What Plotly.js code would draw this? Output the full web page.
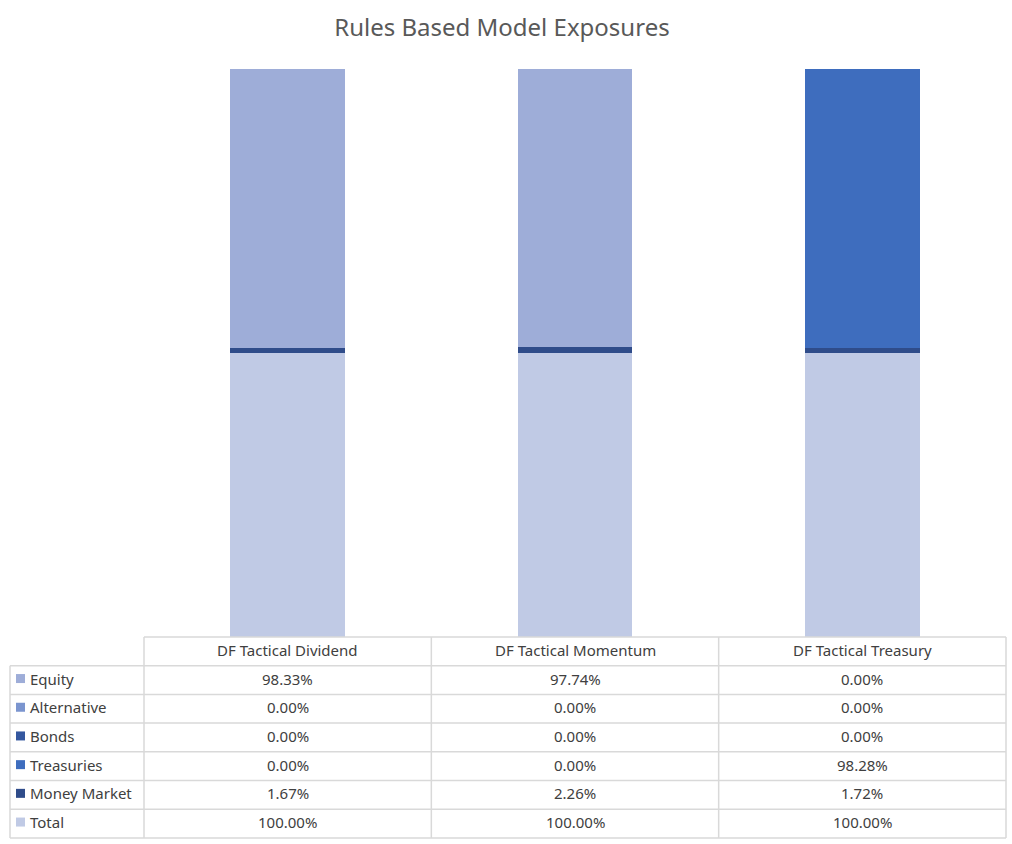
<!DOCTYPE html>
<html><head><meta charset="utf-8">
<script src="https://cdn.plot.ly/plotly-3.0.1.min.js"></script>
<style>html,body{margin:0;padding:0;background:#fff}#chart{width:1012px;height:844px}</style>
</head><body><div id="chart"></div>
<script>
const categories = ["DF Tactical Dividend", "DF Tactical Momentum", "DF Tactical Treasury"];
const seriesNames = ["Equity", "Alternative", "Bonds", "Treasuries", "Money Market", "Total"];
const equity = [98.33, 97.74, 0.00];
const alternative = [0.00, 0.00, 0.00];
const bonds = [0.00, 0.00, 0.00];
const treasuries = [0.00, 0.00, 98.28];
const moneyMarket = [1.67, 2.26, 1.72];
const total = [100.00, 100.00, 100.00];
const seriesColors = ["#9eadd8", "#7b95cf", "#34579f", "#3e6dbe", "#2f4c8a", "#c0cae5"];

const seriesValues = [equity, alternative, bonds, treasuries, moneyMarket, total];

// geometry (pixels)
const W = 1012, H = 844;
const mL = 144, mR = 6, mT = 69, mB = 207;
const plotW = W - mL - mR, plotH = H - mT - mB;
const rowH = 28.7;
const tableLeft = 10;
const px2x = p => (p - mL) / plotW;
const py2y = p => (H - mB - p) / plotH;

// bars, stacked bottom-up: Total, Money Market, Treasuries, Bonds, Alternative, Equity
const traces = [];
for (let i = seriesNames.length - 1; i >= 0; i--) {
  traces.push({
    type: "bar", name: seriesNames[i], x: categories, y: seriesValues[i],
    marker: {color: seriesColors[i], line: {width: 0}}, width: 0.4,
    hoverinfo: "name+y", showlegend: false
  });
}

const shapes = [], annotations = [];
const gridColor = "#d9d9d9";
const tableTop = H - mB;
const nRows = seriesNames.length + 1;
const tableBottom = tableTop + nRows * rowH;
// horizontal lines
shapes.push({type: "line", xref: "paper", yref: "paper", x0: px2x(mL), x1: px2x(W - mR), y0: py2y(tableTop), y1: py2y(tableTop), line: {color: gridColor, width: 1.5}});
for (let r = 1; r <= nRows; r++) {
  const yy = py2y(tableTop + r * rowH);
  shapes.push({type: "line", xref: "paper", yref: "paper", x0: px2x(tableLeft), x1: px2x(W - mR), y0: yy, y1: yy, line: {color: gridColor, width: 1.5}});
}
// vertical lines
shapes.push({type: "line", xref: "paper", yref: "paper", x0: px2x(tableLeft), x1: px2x(tableLeft), y0: py2y(tableTop + rowH), y1: py2y(tableBottom), line: {color: gridColor, width: 1.5}});
for (let c = 0; c <= categories.length; c++) {
  const xx = c / categories.length;
  shapes.push({type: "line", xref: "paper", yref: "paper", x0: xx, x1: xx, y0: py2y(tableTop), y1: py2y(tableBottom), line: {color: gridColor, width: 1.5}});
}
const font = {family: "Noto Sans, Open Sans, sans-serif", size: 15, color: "#404040"};
const tShift = -1.5;
// headers
categories.forEach((c, ci) => {
  annotations.push({xref: "x", yref: "paper", x: c, y: py2y(tableTop + rowH / 2 + tShift), text: c, showarrow: false, font: font, xanchor: "center", yanchor: "middle"});
});
// rows
seriesNames.forEach((s, si) => {
  const cy = tableTop + (si + 1.5) * rowH;
  shapes.push({type: "rect", xref: "paper", yref: "paper", x0: px2x(16), x1: px2x(25), y0: py2y(cy - 4.5 + tShift), y1: py2y(cy + 4.5 + tShift), fillcolor: seriesColors[si], line: {width: 0}});
  annotations.push({xref: "paper", yref: "paper", x: px2x(28), y: py2y(cy + tShift), text: s, showarrow: false, font: font, xanchor: "left", yanchor: "middle"});
  categories.forEach((c, ci) => {
    annotations.push({xref: "x", yref: "paper", x: c, y: py2y(cy + tShift), text: seriesValues[si][ci].toFixed(2) + "%", showarrow: false, font: font, xanchor: "center", yanchor: "middle"});
  });
});

const layout = {
  width: W, height: H,
  margin: {l: mL, r: mR, t: mT, b: mB},
  paper_bgcolor: "#ffffff", plot_bgcolor: "#ffffff",
  title: {text: "Rules Based Model Exposures", x: 0.496, xanchor: "center", y: 0.967, yanchor: "middle", font: {family: "Noto Sans, Open Sans, sans-serif", size: 24, color: "#595959"}},
  barmode: "stack", bargap: 0.6,
  xaxis: {showticklabels: false, showgrid: false, zeroline: false, showline: false, ticks: ""},
  yaxis: {range: [0, 200], showticklabels: false, showgrid: false, zeroline: false, showline: false, ticks: ""},
  shapes: shapes, annotations: annotations, showlegend: false
};
Plotly.newPlot("chart", traces, layout, {displayModeBar: false, staticPlot: true});
</script></body></html>
